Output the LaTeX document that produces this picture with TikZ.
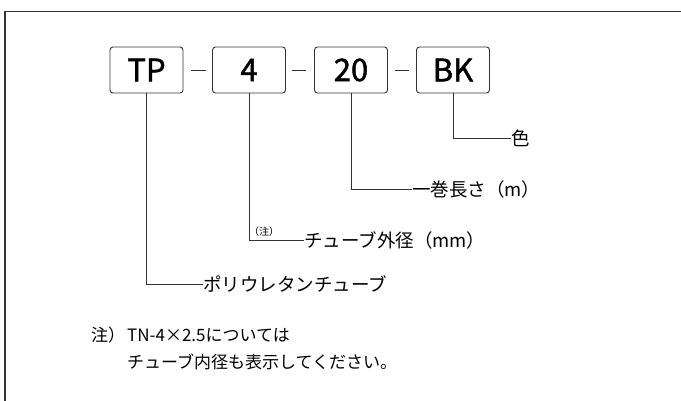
\documentclass[tikz,border=0pt]{standalone}
\usepackage{fontspec}
\setmainfont{Noto Sans CJK JP}
\newfontfamily\jpfont{Noto Sans CJK JP}
\newfontfamily\boxfont[FakeBold=1.5]{Noto Sans CJK JP}
\newfontfamily\titlefont[FakeBold=3]{Noto Sans CJK JP}
\definecolor{linegray}{HTML}{333333}
\tikzset{
  codebox/.style={draw=linegray, line width=0.9pt, rounded corners=3pt, minimum width=73pt, minimum height=46pt, inner sep=0pt, font=\boxfont\fontsize{31}{31}\selectfont},
  lbl/.style={anchor=west, inner sep=0pt, font=\jpfont\fontsize{18.5}{18.5}\selectfont},
  notetxt/.style={anchor=west, inner sep=0pt, font=\jpfont\fontsize{17}{17}\selectfont},
  conn/.style={draw=linegray, line width=0.8pt},
  sep/.style={draw=linegray, line width=0.8pt}
}
\begin{document}
\begin{tikzpicture}[x=1pt,y=-1pt]
\useasboundingbox (0,0) rectangle (681,401);
\clip (0,0) rectangle (681,401);
% title (cut off at top)
\node[anchor=base west, inner sep=0pt, font=\titlefont\fontsize{38}{38}\selectfont] (title) at (6,-5) {表示方法};
% frame
\draw[draw=linegray, line width=1.5pt] (5,420) -- (5,11.5) -- (700,11.5);
% code boxes
\node[codebox] (tp) at (146.5,70) {TP};
\node[codebox] (n4) at (249,70) {4};
\node[codebox] (n20) at (351,70) {20};
\node[codebox] (bk) at (453,70) {BK};
% separators
\coordinate (s1a) at (191,70.5); \coordinate (s1b) at (206,70.5);
\coordinate (s2a) at (292,70.5); \coordinate (s2b) at (306,70.5);
\coordinate (s3a) at (395,70.5); \coordinate (s3b) at (409,70.5);
\draw[sep] (s1a) -- (s1b);
\draw[sep] (s2a) -- (s2b);
\draw[sep] (s3a) -- (s3b);
% labels
\node[lbl] (lcol) at (511,138) {色};
\node[lbl] (llen) at (412,189) {一巻長さ（m）};
\node[lbl] (lod) at (304,240) {チューブ外径（mm）};
\node[lbl] (lpu) at (203,284) {ポリウレタンチューブ};
\node[anchor=center, inner sep=0pt, font=\jpfont\fontsize{10}{10}\selectfont] (chu) at (264,231.5) {（注）};
% connectors
\draw[conn] (bk.south) |- (lcol.west);
\draw[conn] (n20.south) |- (llen.west);
\draw[conn] (n4.south) |- (lod.west);
\draw[conn] (tp.south) |- (lpu.west);
% note
\node[notetxt] (nmark) at (91,335) {注）};
\node[notetxt] (n1) at (127,335) {TN-4×2.5については};
\node[notetxt] (n2) at (127,362) {チューブ内径も表示してください。};
\end{tikzpicture}
\end{document}
